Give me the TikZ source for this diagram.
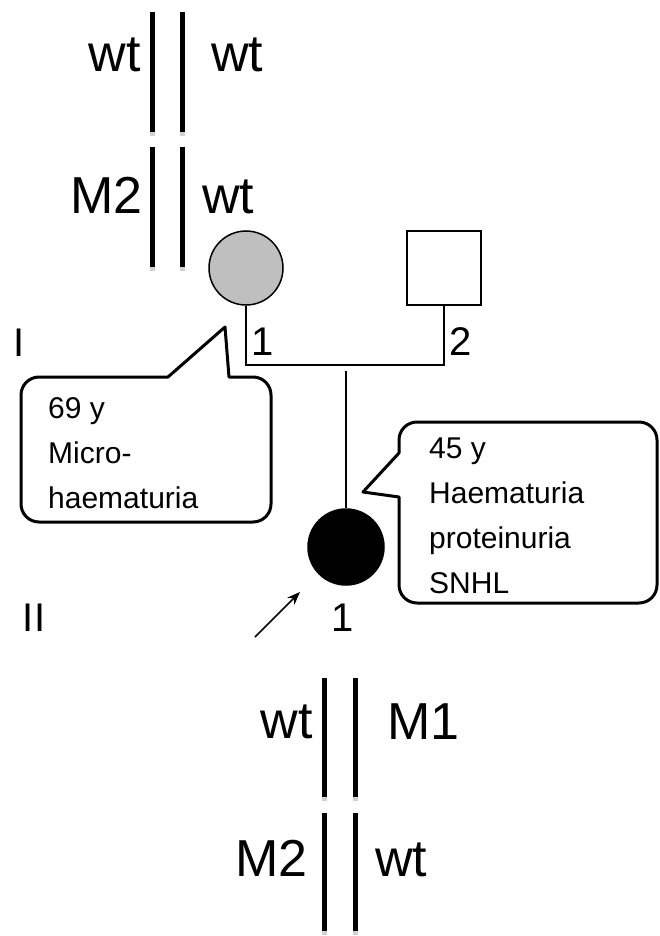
\documentclass[tikz,border=0pt]{standalone}
\usepackage{fontspec}
\setmainfont{Liberation Sans}
\usetikzlibrary{calc}
\usetikzlibrary{arrows.meta}

\tikzset{
    chrom/.style={line width=5pt},
    chromtip/.style={fill=gray!35},
    biglabel/.style={font=\fontsize{52}{60}\selectfont, inner sep=0pt},
    genlabel/.style={font=\fontsize{40}{48}\selectfont, inner sep=0pt},
    notetext/.style={font=\fontsize{30}{45}\selectfont, align=left, inner sep=0pt},
    bubble/.style={line width=3pt, line join=round},
    person/.style={draw, line width=1.5pt, inner sep=0pt},
}

\begin{document}
\begin{tikzpicture}[x=1pt, y=-1pt]
    \useasboundingbox (0,0) rectangle (660,936);

    % 染色体（上）
    \foreach \x in {152, 182} {
        \draw[chrom] (\x,12) -- (\x,132);
        \fill[chromtip] (\x-2.5,132) rectangle (\x+2.5,136);
        \draw[chrom] (\x,147) -- (\x,267);
        \fill[chromtip] (\x-2.5,267) rectangle (\x+2.5,271);
    }
    \node[biglabel, anchor=east] (motherA1) at (141,55)  {wt};
    \node[biglabel, anchor=west] (motherB1) at (211,55)  {wt};
    \node[biglabel, anchor=east] (motherA2) at (143,195) {M2};
    \node[biglabel, anchor=west] (motherB2) at (202,197) {wt};

    % 染色体（下）
    \foreach \x in {324, 355} {
        \draw[chrom] (\x,678) -- (\x,797);
        \fill[chromtip] (\x-2.5,797) rectangle (\x+2.5,801);
        \draw[chrom] (\x,813) -- (\x,931);
        \fill[chromtip] (\x-2.5,931) rectangle (\x+2.5,935);
    }
    \node[biglabel, anchor=east] (childA1) at (313,722) {wt};
    \node[biglabel, anchor=west] (childB1) at (387,722) {M1};
    \node[biglabel, anchor=east] (childA2) at (308,858) {M2};
    \node[biglabel, anchor=west] (childB2) at (375,860) {wt};

    % 家系图
    \node[person, circle, fill=gray!50, minimum size=74pt] (mother) at (246,268) {};
    \node[person, rectangle, minimum size=74pt] (father) at (444,268) {};
    \node[person, circle, fill=black, minimum size=76pt] (child) at (346,547) {};
    \coordinate (mateY) at (0,365);
    \coordinate (sibTop) at (child.north |- 0,371);
    \draw[line width=1.5pt] (mother.south) |- (mateY -| father.south) -- (father.south);
    \draw[line width=1.5pt] (sibTop) -- (child.north);

    % 编号
    \node[genlabel, anchor=west] (num1) at (251,342) {1};
    \node[genlabel, anchor=west] (num2) at (449,342) {2};
    \node[genlabel] (num3) at (343,618) {1};
    \node[genlabel] (genI)  at (19,343) {I};
    \node[genlabel] (genII) at (34,618) {II};

    % 先证者箭头
    \coordinate (arrTail) at (255,637);
    \coordinate (arrHead) at (300,592);
    \draw[-{Stealth[length=13pt, width=10pt]}, line width=1.5pt] (arrTail) -- (arrHead);

    % 注释框
    \draw[bubble] (225,327) -- (229,377)
        [rounded corners=18pt] -- (271,377) -- (271,522) -- (21,522) -- (21,377)
        [sharp corners] -- (168,377) -- cycle;
    \node[notetext, anchor=base west] (noteI) at (48,508) {69 y\\Micro-\\haematuria};

    \draw[bubble] (363,492) -- (399,497)
        [rounded corners=18pt] -- (399,603) -- (657,603) -- (657,422) -- (399,422)
        [sharp corners] -- (399,453) -- cycle;
    \node[notetext, anchor=base west] (noteII) at (429,593) {45 y\\Haematuria\\proteinuria\\SNHL};

\end{tikzpicture}
\end{document}
